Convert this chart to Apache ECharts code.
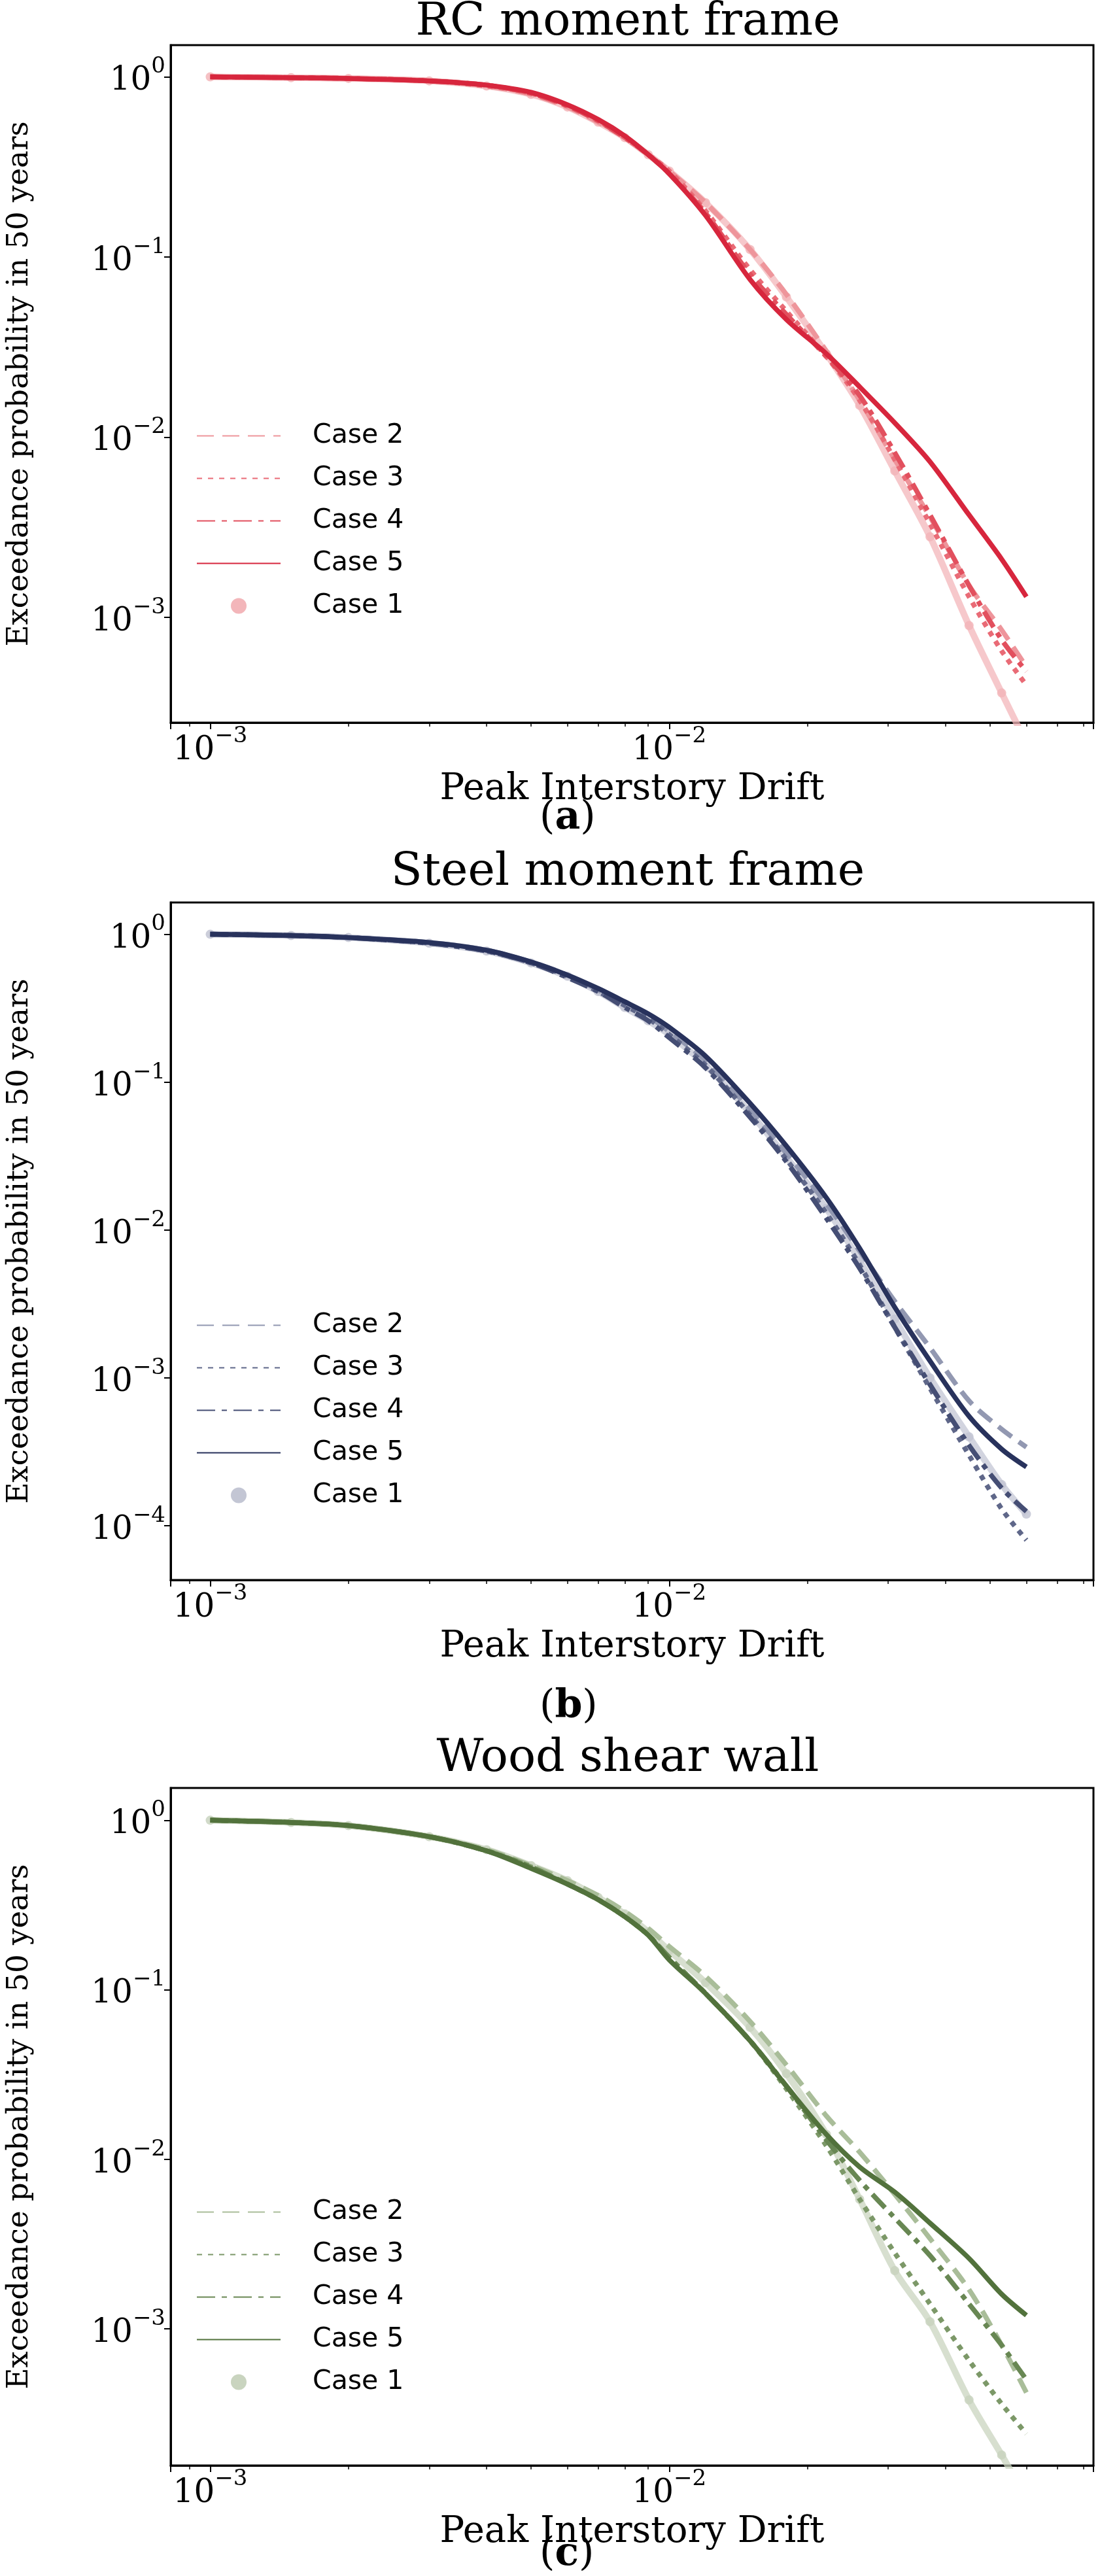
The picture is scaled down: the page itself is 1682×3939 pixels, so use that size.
<!DOCTYPE html>
<html><head><meta charset="utf-8">
<script src="https://cdn.jsdelivr.net/npm/echarts@6/dist/echarts.min.js"></script>
<style>html,body{margin:0;padding:0;background:#fff}#c{width:1682px;height:3939px}</style>
</head><body><div id="c"></div>
<script>
const drift = [0.001,0.0015,0.002,0.003,0.004,0.005,0.006,0.007,0.008,0.009,0.01,0.012,0.015,0.018,0.022,0.026,0.031,0.037,0.045,0.053,0.06];
// RC moment frame
const rc_case1 = [1.0,0.99,0.98,0.95,0.89,0.8,0.68,0.56,0.46,0.37,0.3,0.2,0.11,0.06,0.029,0.015,0.0065,0.0028,0.0009,0.00038,0.0002];
const rc_case2 = [1.0,0.99,0.98,0.95,0.89,0.8,0.68,0.56,0.46,0.37,0.3,0.2,0.11,0.062,0.03,0.016,0.0075,0.0036,0.0015,0.00085,0.00053];
const rc_case3 = [1.0,0.99,0.98,0.95,0.89,0.81,0.69,0.57,0.46,0.37,0.3,0.18,0.085,0.05,0.028,0.016,0.0075,0.0033,0.0013,0.00065,0.00042];
const rc_case4 = [1.0,0.99,0.98,0.95,0.9,0.81,0.69,0.57,0.46,0.37,0.29,0.175,0.08,0.048,0.028,0.017,0.0082,0.0037,0.0015,0.00075,0.0005];
const rc_case5 = [1.0,0.99,0.98,0.95,0.9,0.82,0.7,0.58,0.47,0.37,0.29,0.17,0.075,0.045,0.029,0.019,0.012,0.0073,0.0037,0.0021,0.0013];
// Steel moment frame
const st_case1 = [1.0,0.98,0.95,0.87,0.77,0.64,0.52,0.41,0.32,0.26,0.21,0.13,0.062,0.031,0.014,0.0062,0.0025,0.001,0.0004,0.00019,0.00012];
const st_case2 = [1.0,0.98,0.95,0.88,0.78,0.65,0.53,0.42,0.34,0.28,0.22,0.14,0.065,0.033,0.015,0.0072,0.0033,0.0016,0.0007,0.00045,0.00034];
const st_case3 = [1.0,0.98,0.95,0.87,0.77,0.64,0.52,0.41,0.33,0.27,0.21,0.13,0.06,0.03,0.013,0.0058,0.0022,0.00085,0.0003,0.00013,0.00008];
const st_case4 = [1.0,0.98,0.95,0.87,0.77,0.64,0.51,0.41,0.32,0.26,0.2,0.125,0.058,0.029,0.012,0.0055,0.0022,0.0009,0.00035,0.00018,0.000125];
const st_case5 = [1.0,0.98,0.95,0.88,0.78,0.65,0.53,0.43,0.35,0.29,0.235,0.15,0.072,0.037,0.0165,0.0075,0.003,0.0013,0.00055,0.00033,0.00025];
// Wood shear wall
const wd_case1 = [1.0,0.97,0.93,0.8,0.67,0.54,0.44,0.35,0.28,0.22,0.17,0.11,0.06,0.032,0.014,0.0058,0.0022,0.0011,0.00038,0.00018,0.0001];
const wd_case2 = [1.0,0.97,0.93,0.8,0.67,0.54,0.44,0.36,0.29,0.23,0.18,0.12,0.065,0.036,0.018,0.011,0.0062,0.0034,0.0017,0.0008,0.00042];
const wd_case3 = [1.0,0.97,0.93,0.8,0.66,0.53,0.42,0.34,0.27,0.21,0.155,0.095,0.05,0.026,0.012,0.0058,0.0028,0.0014,0.00065,0.00036,0.00024];
const wd_case4 = [1.0,0.97,0.93,0.8,0.66,0.53,0.42,0.34,0.27,0.21,0.155,0.095,0.05,0.027,0.013,0.0075,0.0045,0.0027,0.0014,0.0008,0.0005];
const wd_case5 = [1.0,0.97,0.93,0.8,0.66,0.52,0.42,0.34,0.27,0.21,0.15,0.095,0.05,0.027,0.014,0.009,0.0064,0.0042,0.0026,0.0016,0.0012];

const titles = ['RC moment frame','Steel moment frame','Wood shear wall'];
const tags = ['a','b','c'];
const legendNames = ['Case 2','Case 3','Case 4','Case 5','Case 1'];
const panels = [
  {c1:rc_case1,c2:rc_case2,c3:rc_case3,c4:rc_case4,c5:rc_case5,ymin:2.6e-4,ymax:1.5,
   col:['#f3b6ba','#ee959b','#e96b76','#e2505e','#d7263d']},
  {c1:st_case1,c2:st_case2,c3:st_case3,c4:st_case4,c5:st_case5,ymin:4.3e-5,ymax:1.64,
   col:['#c3c6d4','#9298b1','#5f6789','#454e74','#28325c']},
  {c1:wd_case1,c2:wd_case2,c3:wd_case3,c4:wd_case4,c5:wd_case5,ymin:1.56e-4,ymax:1.55,
   col:['#c9d4bf','#a9bd99','#7c9868','#688753','#52723c']}
];
const gridTops = [69,1380,2734], gridH = 1036;
const legendTops = [641,2001,3357];
const titleTops = [0,1300,2655];
const tagCenters = [1257,2616,3912];
function fmt(v){ const l=Math.log10(v), e=Math.round(l); if(Math.abs(l-e)>1e-6) return ''; return '{b|10}{s|'+(e<0?'−':'')+Math.abs(e)+'}'; }
const rich = {b:{fontFamily:'DejaVu Serif',fontSize:50,color:'#000',verticalAlign:'bottom'},
              s:{fontFamily:'DejaVu Serif',fontSize:34,color:'#000',verticalAlign:'bottom',padding:[0,0,30,0]}};
const pairs = a => drift.map((x,i)=>[x,a[i]]);

const option = {animation:false, title:[], grid:[], xAxis:[], yAxis:[], series:[], legend:[], graphic:[]};
panels.forEach((p,k)=>{
  const top = gridTops[k];
  option.title.push({text:titles[k],left:960,textAlign:'center',top:titleTops[k],padding:0,
    textStyle:{fontFamily:'DejaVu Serif',fontSize:70,fontWeight:'normal',color:'#000'}});
  option.grid.push({left:249,top:top,width:1423,height:gridH,show:true,borderColor:'#000',borderWidth:3});
  option.xAxis.push({type:'log',logBase:10,gridIndex:k,min:8.2e-4,max:0.084,
    name:'Peak Interstory Drift',nameLocation:'middle',nameGap:74,
    nameTextStyle:{fontFamily:'DejaVu Serif',fontSize:56,color:'#000'},
    axisLine:{lineStyle:{color:'#000',width:3}},axisTick:{length:10,lineStyle:{width:2,color:'#000'}},
    minorTick:{show:true,splitNumber:9,length:6,lineStyle:{color:'#000',width:1.5}},
    splitLine:{show:false},axisLabel:{formatter:fmt,rich:rich,margin:4,showMinLabel:false,showMaxLabel:false}});
  option.yAxis.push({type:'log',logBase:10,gridIndex:k,min:p.ymin,max:p.ymax,
    name:'Exceedance probability in 50 years',nameLocation:'middle',nameGap:208,
    nameTextStyle:{fontFamily:'DejaVu Serif',fontSize:45,color:'#000'},
    axisLine:{lineStyle:{color:'#000',width:3}},axisTick:{length:10,lineStyle:{width:2,color:'#000'}},
    splitLine:{show:false},axisLabel:{formatter:fmt,rich:rich,margin:8,showMinLabel:false,showMaxLabel:false}});
  const pre = 'p'+k+':';
  const mk = (name,data,color,type) => ({name:pre+name,type:'line',xAxisIndex:k,yAxisIndex:k,data:pairs(data),
    smooth:0.3,showSymbol:false,symbol:'none',color:color,itemStyle:{color:color},
    lineStyle:{color:color,width:7.5,type:type,cap:'butt'},z:3});
  option.series.push(mk('Case 2',p.c2,p.col[1],[26,13]));
  option.series.push(mk('Case 3',p.c3,p.col[2],[8,9]));
  option.series.push(mk('Case 4',p.c4,p.col[3],[28,10,8,10]));
  option.series.push(mk('Case 5',p.c5,p.col[4],'solid'));
  option.series.push({name:pre+'Case 1',type:'line',xAxisIndex:k,yAxisIndex:k,data:pairs(p.c1),smooth:0.3,
    symbol:'circle',symbolSize:14,showSymbol:true,color:p.col[0],itemStyle:{color:p.col[0],opacity:0.85},
    lineStyle:{color:p.col[0],width:10,opacity:0.75},z:2});
  option.legend.push({orient:'vertical',left:295,top:legendTops[k],itemWidth:128,itemHeight:24,itemGap:24,
    itemStyle:{opacity:0},
    data:legendNames.map(n=>n==='Case 1'
      ? {name:pre+n,icon:'circle',itemStyle:{opacity:1,color:p.col[0]},lineStyle:{opacity:0}}
      : {name:pre+n}),
    formatter:n=>n.split(':')[1],selectedMode:false,
    textStyle:{fontFamily:'DejaVu Sans',fontSize:41,color:'#000',padding:[0,0,0,44]}});
  option.graphic.push({type:'text',left:863-38,top:tagCenters[k]-36,
    style:{rich:{p:{font:'60px "DejaVu Serif"',fill:'#000'},t:{font:'bold 60px "DejaVu Serif"',fill:'#000'}},
      text:'{p|(}{t|'+tags[k]+'}{p|)}'}});
});
const ch = echarts.init(document.getElementById('c'),null,{renderer:'canvas'});
ch.setOption(option);
</script></body></html>
